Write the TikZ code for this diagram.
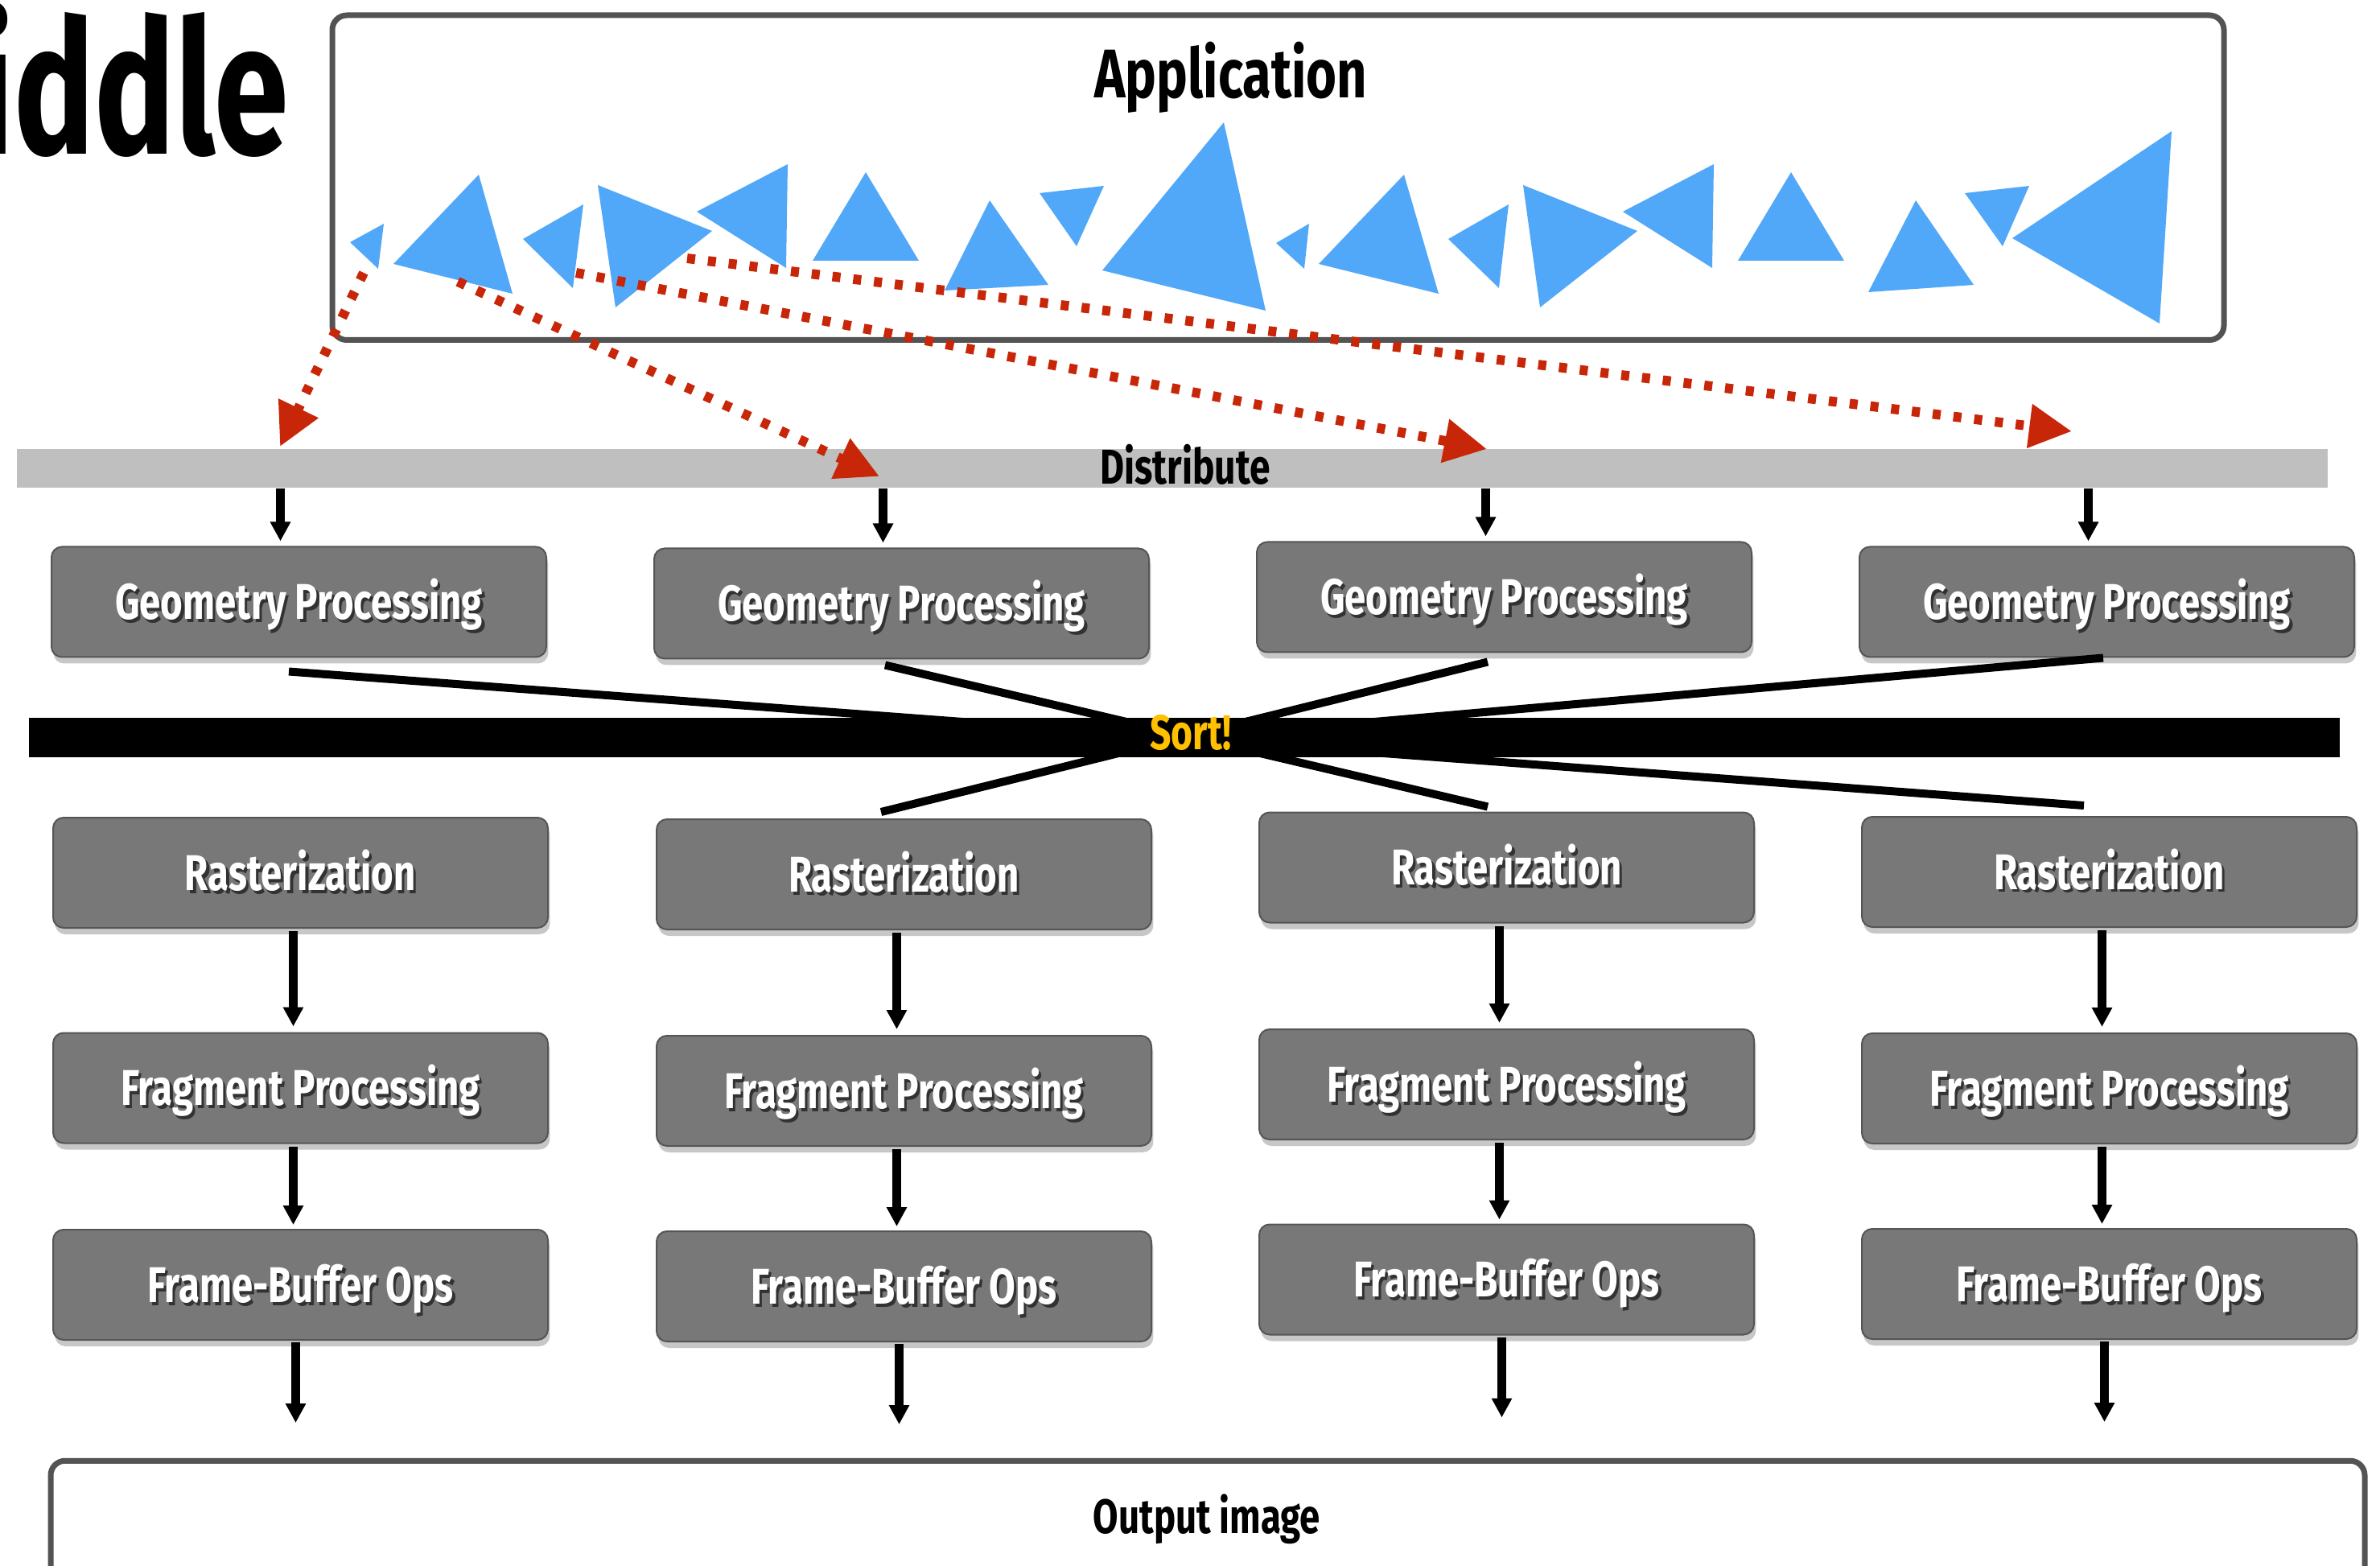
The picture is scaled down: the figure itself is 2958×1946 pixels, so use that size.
\documentclass[tikz,border=0pt]{standalone}
\usepackage{fontspec}
\setmainfont{Fira Sans}
\newfontfamily\condfont[FakeStretch=0.76]{Fira Sans}
\newfontfamily\titlefont[FakeStretch=0.72]{Fira Sans}
\usetikzlibrary{arrows.meta,calc,shadows}

\definecolor{triblue}{RGB}{82,168,248}
\definecolor{distred}{RGB}{200,38,8}
\definecolor{framegray}{RGB}{83,83,83}
\definecolor{bargray}{RGB}{191,191,191}
\definecolor{stagefill}{RGB}{120,120,120}
\definecolor{stageedge}{RGB}{85,85,85}
\definecolor{sortyellow}{RGB}{255,192,0}
\definecolor{labelshade}{RGB}{50,50,50}

% white stage label with a dark offset copy behind it
\newcommand\shadedlabel[1]{\makebox[0pt][l]{\kern0.8pt\raisebox{-1pt}{\color{labelshade}#1}}{\color{white}#1}}

\begin{document}
\begin{tikzpicture}[x=0.25pt,y=-0.25pt,
  stage/.style={rectangle, rounded corners=3.25pt, draw=stageedge, line width=0.5pt,
    fill=stagefill, minimum width=153.75pt, minimum height=34.25pt, inner sep=0pt,
    font=\condfont\bfseries\fontsize{15.6pt}{16pt}\selectfont,
    text height=10.75pt, text depth=0pt,
    drop shadow={shadow xshift=0.6pt, shadow yshift=-2pt, opacity=0.22, fill=black}},
  frame/.style={draw=framegray, line width=1.75pt, rounded corners=4.5pt, inner sep=0pt},
  flow/.style={line width=2.6pt, -{Triangle[length=6pt,width=6pt]}},
  deal/.style={draw=distred, line width=3pt, dash pattern=on 2.5pt off 4pt,
    -{Triangle[length=13.25pt,width=13pt]}},
  tri/.style={fill=triblue},
  cross/.style={line width=2.5pt},
  heading/.style={inner sep=0pt, anchor=base, font=\condfont\bfseries\fontsize{#1}{#1}\selectfont}
]
\useasboundingbox (0,0) rectangle (2958,1946);
\clip (0,0) rectangle (2958,1946);
\fill[white] (0,0) rectangle (2958,1946);

% slide title fragment
\node[inner sep=0pt, anchor=base east, font=\titlefont\bfseries\fontsize{58pt}{58pt}\selectfont]
  (title) at (360,192) {iddle};

% application frame
\node[frame, minimum width=587.75pt, minimum height=100.875pt] (app) at (1588.5,220.75) {};
\node[heading=21.4pt] (apptitle) at (1530,122) {Application};

% primitives
\fill[tri] (435,301) -- (477,278) -- (470,334) -- cycle;
\fill[tri] (489,328) -- (595,217) -- (637,365) -- cycle;
\fill[tri] (650,297) -- (725,254) -- (712,358) -- cycle;
\fill[tri] (743,230) -- (885,287) -- (765,382) -- cycle;
\fill[tri] (866,263) -- (979,204) -- (977,333) -- cycle;
\fill[tri] (1010,324) -- (1076,214) -- (1142,324) -- cycle;
\fill[tri] (1174,361) -- (1230,249) -- (1303,354) -- cycle;
\fill[tri] (1292,240) -- (1372,231) -- (1338,306) -- cycle;
\fill[tri] (1370,336) -- (1521,152) -- (1573,386) -- cycle;
\fill[tri] (1586,302) -- (1627,278) -- (1621,334) -- cycle;
\fill[tri] (1639,328) -- (1745,217) -- (1788,365) -- cycle;
\fill[tri] (1800,297) -- (1875,254) -- (1863,358) -- cycle;
\fill[tri] (1893,230) -- (2035,287) -- (1914,382) -- cycle;
\fill[tri] (2017,263) -- (2130,204) -- (2128,333) -- cycle;
\fill[tri] (2160,324) -- (2226,214) -- (2292,324) -- cycle;
\fill[tri] (2322,363) -- (2381,249) -- (2453,354) -- cycle;
\fill[tri] (2442,240) -- (2522,231) -- (2489,306) -- cycle;
\fill[tri] (2501,296) -- (2699,163) -- (2684,402) -- cycle;

% distribution bar
\node[fill=bargray, minimum width=718pt, minimum height=12pt, inner sep=0pt] (dist) at (1457,582) {};
\node[heading=15.2pt] (disttitle) at (1473,602) {Distribute};

% primitives dealt out to the geometry units
\coordinate (s1) at (452,339);
\coordinate (s2) at (569,350);
\coordinate (s3) at (716,339);
\coordinate (s4) at (854,321);
\coordinate (d1) at (348,555);
\coordinate (d2) at (1093,592);
\coordinate (d3) at (1848,558);
\coordinate (d4) at (2575,536);
\draw[deal] (s1) -- (d1);
\draw[deal] (s2) -- (d2);
\draw[deal] (s3) -- (d3);
\draw[deal] (s4) -- (d4);

% pipeline stages
\node[stage] (g1) at (371.5,748) {\shadedlabel{Geometry Processing}};
\node[stage] (g2) at (1120.5,750) {\shadedlabel{Geometry Processing}};
\node[stage] (g3) at (1869.5,742) {\shadedlabel{Geometry Processing}};
\node[stage] (g4) at (2618.5,748) {\shadedlabel{Geometry Processing}};

\node[stage] (r1) at (373.5,1084.5) {\shadedlabel{Rasterization}};
\node[stage] (r2) at (1123.5,1086.5) {\shadedlabel{Rasterization}};
\node[stage] (r3) at (1872.5,1078) {\shadedlabel{Rasterization}};
\node[stage] (r4) at (2621.5,1083.5) {\shadedlabel{Rasterization}};

\node[stage] (f1) at (373.5,1352) {\shadedlabel{Fragment Processing}};
\node[stage] (f2) at (1123.5,1355.5) {\shadedlabel{Fragment Processing}};
\node[stage] (f3) at (1872.5,1347.5) {\shadedlabel{Fragment Processing}};
\node[stage] (f4) at (2621.5,1352.5) {\shadedlabel{Fragment Processing}};

\node[stage] (b1) at (373.5,1596.5) {\shadedlabel{Frame-Buffer Ops}};
\node[stage] (b2) at (1123.5,1598.5) {\shadedlabel{Frame-Buffer Ops}};
\node[stage] (b3) at (1872.5,1590) {\shadedlabel{Frame-Buffer Ops}};
\node[stage] (b4) at (2621.5,1595.5) {\shadedlabel{Frame-Buffer Ops}};

% distribute -> geometry
\foreach \g in {g1,g2,g3,g4}{
  \coordinate (\g-in) at ($(\g.north)+(-23,-6)$);
  \draw[flow] (\g-in |- dist.south) -- (\g-in);
}

% rasterization -> fragment -> frame buffer
\foreach \r/\f in {r1/f1,r2/f2,r3/f3,r4/f4}
  \draw[flow] ($(\r.south)+(-9,3)$) -- ($(\f.north)+(-9,-7)$);
\foreach \f/\b in {f1/b1,f2/b2,f3/b3,f4/b4}
  \draw[flow] ($(\f.south)+(-9,3)$) -- ($(\b.north)+(-9,-5)$);

% frame buffer -> output
\foreach \b/\o in {b1/o1,b2/o2,b3/o3,b4/o4}{
  \coordinate (\o) at ($(\b.south)+(-6,102)$);
  \draw[flow] ($(\b.south)+(-6,2)$) -- (\o);
}

% sort barrier
\node[fill=black, minimum width=718pt, minimum height=12.25pt, inner sep=0pt] (sort) at (1472,916.5) {};
\coordinate (hub) at (1480,917);
\draw[cross] ($(g1.south)+(-12.5,17)$) -- ($(r4.north)+(-31.5,-13)$);
\draw[cross] ($(g2.south)+(-20.5,7)$) -- ($(r3.north)+(-23.5,-6)$);
\draw[cross] ($(g3.south)+(-20.5,11)$) -- ($(r2.north)+(-28.5,-8)$);
\draw[cross] ($(g4.south)+(-4.5,0)$) -- (hub);
\node[heading=15.2pt, text=sortyellow] (sorttitle) at (1480,932) {Sort!};

% output image
\node[frame, minimum width=719pt, minimum height=39.875pt] (out) at (1501,1895) {};
\node[heading=15pt] (outtitle) at (1500,1905) {Output image};
\end{tikzpicture}
\end{document}
